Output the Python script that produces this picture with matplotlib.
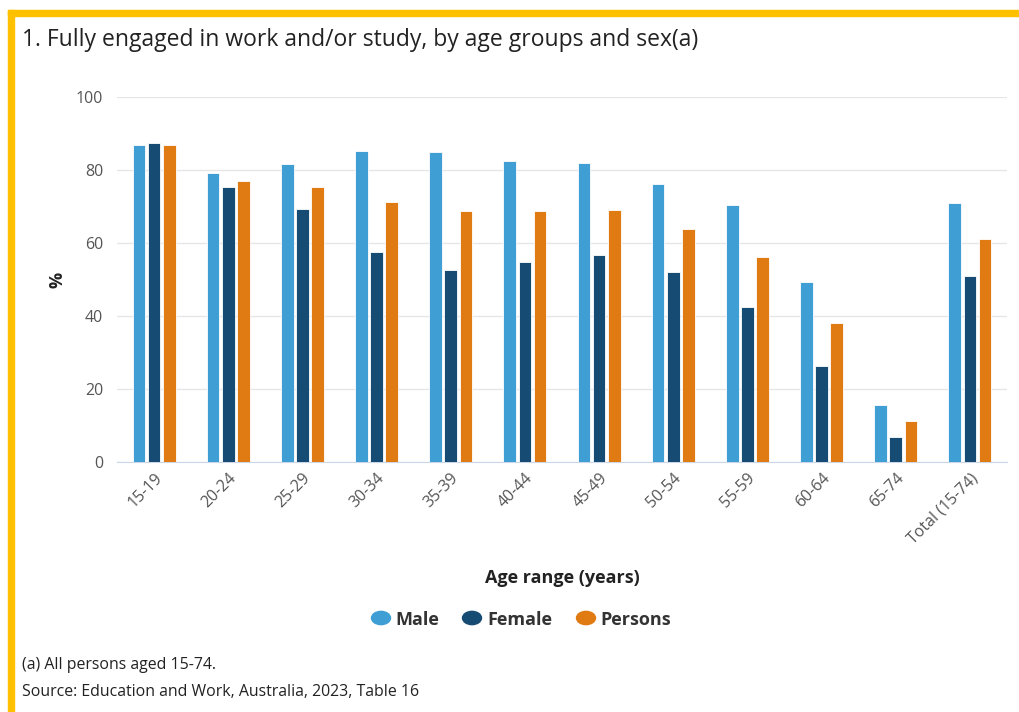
import matplotlib.pyplot as plt
import numpy as np
from matplotlib.patches import Rectangle, Circle

plt.rcParams['font.family'] = ['Open Sans', 'DejaVu Sans']

ages = ['15-19', '20-24', '25-29', '30-34', '35-39', '40-44', '45-49',
        '50-54', '55-59', '60-64', '65-74', 'Total (15-74)']
male = [86.8, 79.2, 81.6, 85.2, 84.9, 82.5, 81.9, 76.2, 70.4, 49.3, 15.6, 71.0]
female = [87.4, 75.3, 69.3, 57.5, 52.6, 54.8, 56.7, 52.1, 42.5, 26.3, 6.8, 51.0]
persons = [86.8, 77.0, 75.3, 71.2, 68.8, 68.8, 69.0, 63.8, 56.2, 38.1, 11.2, 61.1]

series = ['Male', 'Female', 'Persons']
colors = {'Male': '#3f9fd5', 'Female': '#164b73', 'Persons': '#e07b14'}

W, H = 1019, 712
fig = plt.figure(figsize=(W / 100, H / 100), dpi=100)
ax = fig.add_axes([117/W, 250/H, 890/W, 365/H])

x = np.arange(len(ages))
w = 0.17
off = 0.205
for i, (name, vals) in enumerate(zip(series, [male, female, persons])):
    ax.bar(x + (i - 1) * off, vals, w, color=colors[name], label=name,
           edgecolor='white', linewidth=0.6, zorder=3)

ax.set_xlim(-0.5, len(ages) - 0.5)
ax.set_ylim(0, 100)
ax.set_yticks([0, 20, 40, 60, 80, 100])
ax.yaxis.grid(True, color='#e6e6e6', linewidth=1, zorder=0)
for s in ['top', 'right', 'left']:
    ax.spines[s].set_visible(False)
ax.spines['bottom'].set_color('#ccd6eb')
ax.tick_params(axis='y', length=0, pad=10, labelsize=11.5, labelcolor='#555555')
ax.tick_params(axis='x', length=0, pad=6, labelsize=11.5, labelcolor='#555555')
ax.set_xticks(x)
ax.set_xticklabels(ages, rotation=45, ha='right', va='top', rotation_mode='anchor')

ax.set_ylabel('%', fontsize=13, fontweight='bold', color='#222222', labelpad=7)
ax.set_xlabel('Age range (years)', fontsize=13, fontweight='bold', color='#222222', labelpad=16)

# legend drawn by hand: dot + label
leg_text_x = [395, 487, 600]
leg_dot_x = [381, 472, 586]
for name, tx, dx in zip(series, leg_text_x, leg_dot_x):
    fig.patches.append(Circle((dx / W, 1 - 618 / H), 9.5 / W, transform=fig.transFigure,
                              color=colors[name]))
    fig.text(tx / W, 1 - 618 / H, name, fontsize=13, fontweight='bold',
             color='#333333', va='center_baseline', ha='left')

fig.text(22/W, 1 - 40/H, '1. Fully engaged in work and/or study, by age groups and sex(a)',
         fontsize=16.5, color='#222222', va='center')
fig.text(22/W, 1 - 665/H, '(a) All persons aged 15-74.', fontsize=11.4, color='#222222', va='center')
fig.text(22/W, 1 - 692/H, 'Source: Education and Work, Australia, 2023, Table 16',
         fontsize=11.4, color='#222222', va='center')

# yellow frame on top and left edge
fig.patches.append(Rectangle((8/W, 1 - 16/H), 1, 6/H, transform=fig.transFigure,
                             color='#ffc000', zorder=5))
fig.patches.append(Rectangle((8/W, 0), 6/W, 1 - 10/H, transform=fig.transFigure,
                             color='#ffc000', zorder=5))

fig.savefig('out.png', dpi=100)
